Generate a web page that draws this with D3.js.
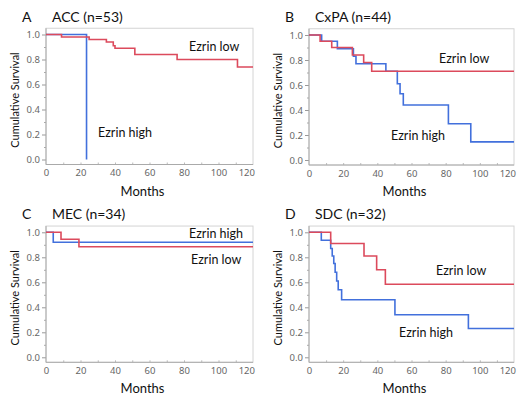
<!DOCTYPE html>
<html>
<head>
<meta charset="utf-8">
<script src="https://cdn.jsdelivr.net/npm/d3@7"></script>
<style>
  body { margin: 0; background: #fff; }
  svg { display: block; }
</style>
</head>
<body>
<svg id="chart" width="520" height="398"></svg>
<script>
// Kaplan-Meier step data (months, cumulative survival)
const accLowTimes = [0, 9, 25, 35, 39, 40, 51.5, 76, 111, 120];
const accLowSurv = [1.0, 0.98, 0.96, 0.94, 0.91, 0.89, 0.84, 0.80, 0.74, 0.74];
const accHighTimes = [0, 23.5];
const accHighSurv = [1.0, 0.0];

const cxpaLowTimes = [0, 6.5, 13.3, 25.4, 32, 36.7, 120];
const cxpaLowSurv = [1.0, 0.95, 0.90, 0.84, 0.78, 0.71, 0.71];
const cxpaHighTimes = [0, 7.4, 16.6, 26, 27.5, 45, 51.7, 53.3, 55.2, 81.6, 94.7, 120];
const cxpaHighSurv = [1.0, 0.95, 0.89, 0.83, 0.77, 0.71, 0.61, 0.53, 0.44, 0.29, 0.145, 0.145];

const mecLowTimes = [0, 8.7, 19.1, 120];
const mecLowSurv = [1.0, 0.945, 0.885, 0.885];
const mecHighTimes = [0, 4.2, 120];
const mecHighSurv = [1.0, 0.92, 0.92];

const sdcLowTimes = [0, 12.7, 32.2, 39.6, 44.7, 120];
const sdcLowSurv = [1.0, 0.91, 0.81, 0.70, 0.585, 0.585];
const sdcHighTimes = [0, 7.2, 12.7, 13.6, 14.5, 15.3, 16.2, 17.1, 19.1, 50.3, 93.3, 120];
const sdcHighSurv = [1.0, 0.936, 0.87, 0.81, 0.75, 0.68, 0.61, 0.54, 0.46, 0.34, 0.23, 0.23];

const xTicks = [0, 20, 40, 60, 80, 100, 120];
const yTicks = [0.0, 0.2, 0.4, 0.6, 0.8, 1.0];

const panels = [
  { letter: 'A', title: 'ACC (n=53)', low: [accLowTimes, accLowSurv], high: [accHighTimes, accHighSurv],
    x0: 46, x1: 253, yTop: 34.5, yBot: 159.5,
    lowLabel: [189, 46], highLabel: [98, 132] },
  { letter: 'B', title: 'CxPA (n=44)', low: [cxpaLowTimes, cxpaLowSurv], high: [cxpaHighTimes, cxpaHighSurv],
    x0: 309, x1: 514, yTop: 35, yBot: 160,
    lowLabel: [439, 58], highLabel: [391, 135] },
  { letter: 'C', title: 'MEC (n=34)', low: [mecLowTimes, mecLowSurv], high: [mecHighTimes, mecHighSurv],
    x0: 46, x1: 253, yTop: 232.3, yBot: 357.3,
    lowLabel: [191, 259], highLabel: [189, 233] },
  { letter: 'D', title: 'SDC (n=32)', low: [sdcLowTimes, sdcLowSurv], high: [sdcHighTimes, sdcHighSurv],
    x0: 309, x1: 514, yTop: 232.3, yBot: 357.3,
    lowLabel: [436, 270], highLabel: [399, 332] }
];

const RED = '#dc4a5c';
const BLUE = '#4270dc';
const FONT = 'Lato, "Open Sans", sans-serif';
const TICKFONT = '"Noto Sans", "DejaVu Sans", sans-serif';

const svg = d3.select('#chart');

panels.forEach(p => {
  const x = d3.scaleLinear().domain([0, 120]).range([p.x0, p.x1]);
  const y = d3.scaleLinear().domain([0, 1]).range([p.yBot, p.yTop]);
  const g = svg.append('g');

  // light frame
  g.append('rect')
    .attr('x', x(0)).attr('y', y(1.05))
    .attr('width', x(120) - x(0)).attr('height', y(-0.04) - y(1.05))
    .attr('fill', 'none').attr('stroke', '#d4d4d4').attr('stroke-width', 1);

  // y axis
  const yAxis = g.append('g')
    .attr('transform', `translate(${x(0)},0)`)
    .call(d3.axisLeft(y).tickValues(yTicks).tickFormat(d3.format('.1f')).tickSize(4).tickPadding(2));
  yAxis.select('.domain').remove();
  yAxis.selectAll('.tick line').attr('stroke', '#999');
  yAxis.selectAll('.tick text').attr('fill', '#666').style('font-family', TICKFONT).style('font-size', '9.5px');
  g.append('g')
    .attr('transform', `translate(${x(0)},0)`)
    .call(d3.axisLeft(y).tickValues(d3.range(0.1, 1, 0.2)).tickSize(2).tickFormat(''))
    .call(s => s.select('.domain').remove())
    .selectAll('.tick line').attr('stroke', '#aaa');

  // x axis
  const xAxis = g.append('g')
    .attr('transform', `translate(0,${y(-0.04)})`)
    .call(d3.axisBottom(x).tickValues(xTicks).tickSize(0).tickPadding(5));
  xAxis.select('.domain').remove();
  xAxis.selectAll('.tick text').attr('fill', '#666').style('font-family', TICKFONT).style('font-size', '9.5px');
  // last label sits flush with the right edge
  xAxis.selectAll('.tick text').filter(d => d === 120).attr('text-anchor', 'end').attr('dx', '1.5');
  g.append('g')
    .attr('transform', `translate(0,${y(-0.04)})`)
    .call(d3.axisBottom(x).tickValues(d3.range(10, 120, 10)).tickSize(-2).tickFormat(''))
    .call(s => s.select('.domain').remove())
    .selectAll('.tick line').attr('stroke', '#bbb');

  // axis lines
  g.append('line')
    .attr('x1', x(0)).attr('x2', x(0)).attr('y1', y(1.05)).attr('y2', y(-0.04))
    .attr('stroke', '#aaa');
  g.append('line')
    .attr('x1', x(0)).attr('x2', x(120)).attr('y1', y(-0.04)).attr('y2', y(-0.04))
    .attr('stroke', '#aaa');

  const line = d3.line().x(d => x(d[0])).y(d => y(d[1])).curve(d3.curveStepAfter);
  const pts = s => d3.zip(s[0], s[1]);

  g.append('path').datum(pts(p.high)).attr('d', line)
    .attr('fill', 'none').attr('stroke', BLUE).attr('stroke-width', 1.6);
  g.append('path').datum(pts(p.low)).attr('d', line)
    .attr('fill', 'none').attr('stroke', RED).attr('stroke-width', 1.6);

  // titles
  g.append('text').attr('x', p.x0 - 24).attr('y', p.yTop - 13)
    .text(p.letter).style('font-family', FONT).style('font-size', '14px').attr('fill', '#111');
  g.append('text').attr('x', p.x0 + 6).attr('y', p.yTop - 13)
    .text(p.title).style('font-family', FONT).style('font-size', '14px').attr('fill', '#111');

  // axis titles
  g.append('text')
    .attr('transform', `translate(${p.x0 - 32},${(p.yTop + p.yBot) / 2 + 3}) rotate(-90)`)
    .attr('text-anchor', 'middle').attr('dominant-baseline', 'central')
    .text('Cumulative Survival').style('font-family', FONT).style('font-size', '11px').attr('fill', '#111');
  g.append('text')
    .attr('x', (p.x0 + p.x1) / 2 - 7).attr('y', p.yBot + 36)
    .attr('text-anchor', 'middle')
    .text('Months').style('font-family', FONT).style('font-size', '13px').attr('fill', '#111');

  // series labels
  g.append('text').attr('x', p.lowLabel[0]).attr('y', p.lowLabel[1])
    .attr('dominant-baseline', 'central')
    .text('Ezrin low').style('font-family', FONT).style('font-size', '12.5px').attr('fill', '#111');
  g.append('text').attr('x', p.highLabel[0]).attr('y', p.highLabel[1])
    .attr('dominant-baseline', 'central')
    .text('Ezrin high').style('font-family', FONT).style('font-size', '12.5px').attr('fill', '#111');
});
</script>
</body>
</html>
